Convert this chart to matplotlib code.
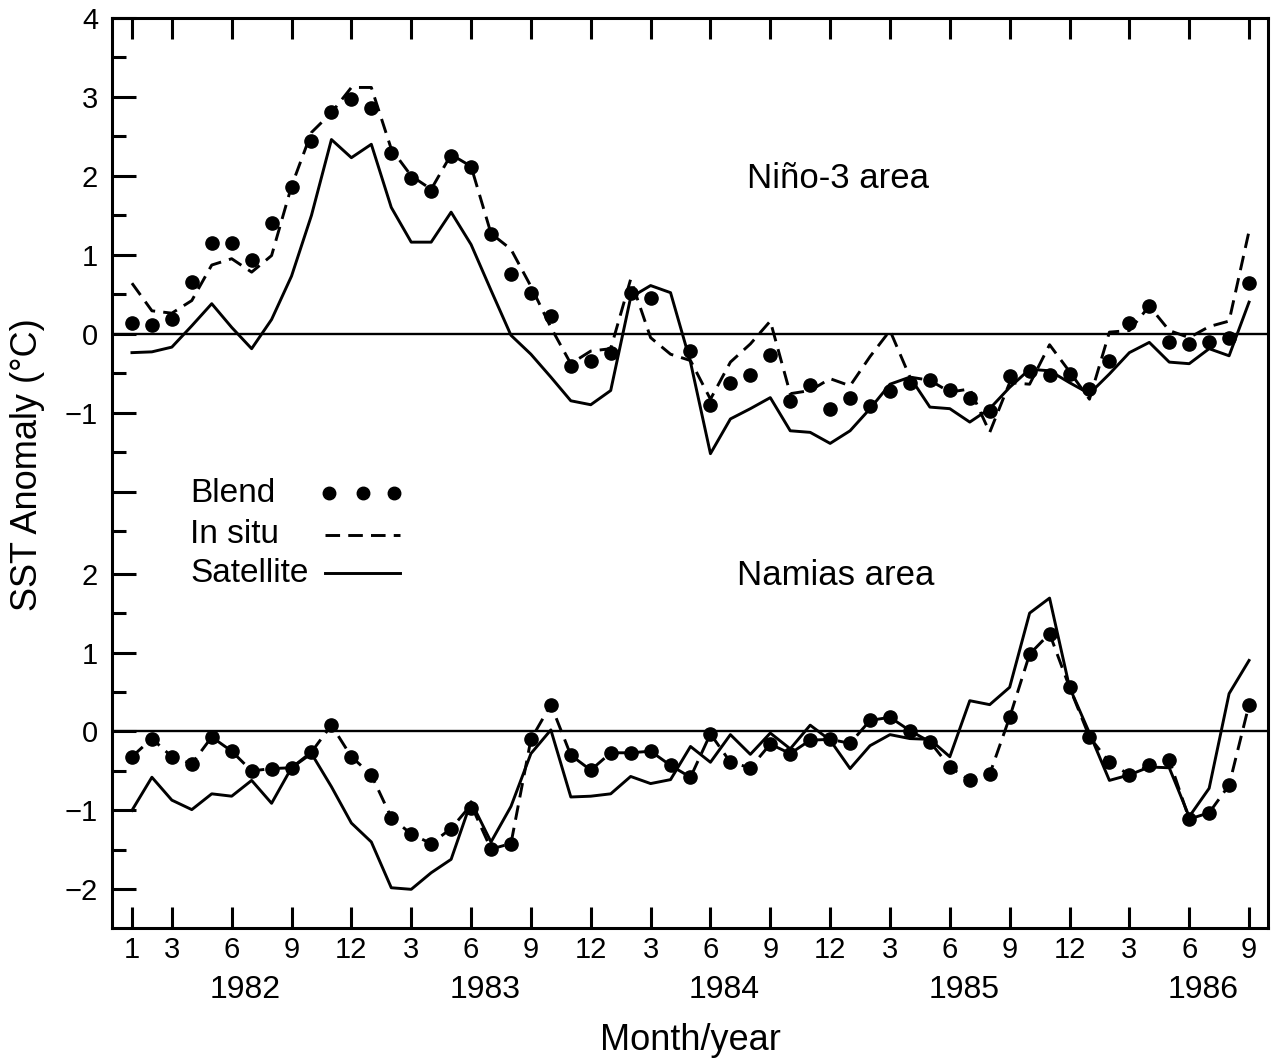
import numpy as np
import matplotlib
matplotlib.use('Agg')
import matplotlib.pyplot as plt

plt.rcParams['font.family'] = ['Liberation Sans', 'DejaVu Sans']

# months since Jan 1982 (0 .. 56 = Sep 1986)
months = np.arange(57)

# Niño-3 area
nino_blend = [0.13, 0.11, 0.18, 0.65, 1.15, 1.15, 0.93, 1.40, 1.86, 2.44,
              2.81, 2.98, 2.86, 2.29, 1.97, 1.81, 2.25, 2.11, 1.26, 0.76,
              0.51, 0.23, -0.41, -0.35, -0.25, 0.52, 0.45, np.nan, -0.22, -0.90,
              -0.62, -0.52, -0.27, -0.85, -0.65, -0.96, -0.81, -0.92, -0.72, -0.62,
              -0.59, -0.71, -0.81, -0.98, -0.54, -0.47, -0.52, -0.51, -0.70, -0.35,
              0.13, 0.35, -0.10, -0.13, -0.11, -0.05, 0.64]
nino_insitu = [0.64, 0.29, 0.26, 0.42, 0.87, 0.95, 0.78, 0.99, 1.87, 2.55,
               2.80, 3.12, 3.12, 2.34, 2.00, 1.83, 2.27, 2.12, 1.27, 1.07,
               0.60, 0.08, -0.38, -0.22, -0.19, 0.69, -0.05, -0.26, -0.34, -0.83,
               -0.36, -0.13, 0.16, -0.76, -0.72, -0.57, -0.66, -0.29, 0.04, -0.55,
               -0.59, -0.74, -0.70, -1.25, -0.62, -0.64, -0.14, -0.48, -0.83, 0.02,
               0.04, 0.35, 0.04, -0.05, 0.09, 0.16, 1.30]
nino_sat = [-0.24, -0.23, -0.17, 0.10, 0.38, 0.08, -0.19, 0.18, 0.73, 1.50,
            2.46, 2.23, 2.40, 1.60, 1.16, 1.16, 1.54, 1.13, 0.55, -0.02,
            -0.26, -0.55, -0.85, -0.90, -0.72, 0.46, 0.61, 0.52, -0.36, -1.52,
            -1.08, -0.95, -0.81, -1.23, -1.25, -1.39, -1.23, -0.95, -0.64, -0.55,
            -0.93, -0.95, -1.12, -0.95, -0.68, -0.45, -0.47, -0.62, -0.76, -0.51,
            -0.24, -0.11, -0.36, -0.38, -0.19, -0.28, 0.40]

# Namias area
nam_blend = [-0.32, -0.09, -0.32, -0.41, -0.07, -0.25, -0.50, -0.47, -0.46, -0.26,
             0.08, -0.32, -0.55, -1.09, -1.30, -1.42, -1.23, -0.97, -1.49, -1.42,
             -0.10, 0.34, -0.30, -0.49, -0.27, -0.27, -0.25, -0.43, -0.58, -0.03,
             -0.39, -0.46, -0.16, -0.28, -0.11, -0.10, -0.15, 0.14, 0.18, 0.01,
             -0.13, -0.45, -0.62, -0.54, 0.18, 0.98, 1.24, 0.56, -0.07, -0.39,
             -0.55, -0.43, -0.36, -1.11, -1.03, -0.68, 0.34]
nam_insitu = [-0.32, -0.09, -0.32, -0.41, -0.07, -0.25, -0.50, -0.47, -0.46, -0.26,
              0.08, -0.32, -0.55, -1.09, -1.30, -1.42, -1.23, -0.93, -1.49, -1.42,
              -0.10, 0.34, -0.30, -0.49, -0.27, -0.27, -0.25, -0.43, -0.58, -0.03,
              -0.39, -0.46, -0.16, -0.28, -0.11, -0.10, -0.15, 0.14, 0.18, 0.01,
              -0.13, -0.45, -0.62, -0.54, 0.18, 0.98, 1.24, 0.56, -0.07, -0.39,
              -0.55, -0.43, -0.36, -1.11, -1.03, -0.68, 0.34]
nam_sat = [-1.00, -0.58, -0.87, -0.99, -0.79, -0.82, -0.62, -0.91, -0.46, -0.28,
           -0.70, -1.16, -1.40, -1.98, -2.00, -1.79, -1.62, -0.89, -1.40, -0.95,
           -0.28, 0.02, -0.83, -0.82, -0.79, -0.57, -0.66, -0.61, -0.19, -0.39,
           -0.04, -0.29, -0.02, -0.22, 0.08, -0.11, -0.47, -0.18, -0.04, -0.09,
           -0.10, -0.32, 0.39, 0.34, 0.56, 1.50, 1.69, 0.56, -0.02, -0.62,
           -0.55, -0.45, -0.46, -1.08, -0.72, 0.48, 0.90]

tick_months = [0, 2, 5, 8, 11, 14, 17, 20, 23, 26, 29, 32, 35, 38, 41, 44, 47, 50, 53, 56]
tick_labels = ['1', '3', '6', '9', '12', '3', '6', '9', '12', '3', '6', '9', '12',
               '3', '6', '9', '12', '3', '6', '9']
years = ['1982', '1983', '1984', '1985', '1986']

OFFSET = -5.04   # lower panel shifted down on the shared axis
LW = 2.1
FS = 24


def main():
    fig = plt.figure(figsize=(12.71, 10.58), dpi=100)
    ax = fig.add_axes([112 / 1271, 1 - 928 / 1058, (1268 - 112) / 1271, (928 - 18) / 1058])

    # zero lines
    ax.axhline(0, color='black', lw=1.7)
    ax.axhline(OFFSET, color='black', lw=1.7)

    dash = (0, (5.0, 2.8))

    # Niño-3
    ax.plot(months, nino_sat, color='black', lw=LW)
    ax.plot(months, nino_insitu, color='black', lw=LW, linestyle=dash)
    ax.plot(months, nino_blend, 'o', color='black', ms=9.5)

    # Namias
    ax.plot(months, np.array(nam_sat) + OFFSET, color='black', lw=LW)
    ax.plot(months, np.array(nam_insitu) + OFFSET, color='black', lw=LW, linestyle=dash)
    ax.plot(months, np.array(nam_blend) + OFFSET, 'o', color='black', ms=9.5)

    ax.set_xlim(-1.0, 56.95)
    ax.set_ylim(OFFSET - 2.49, 3.99)

    # x ticks
    ax.set_xticks(tick_months)
    ax.set_xticklabels(tick_labels)
    # y ticks (two stacked scales)
    up = [4, 3, 2, 1, 0, -1, -2]
    low = [2, 1, 0, -1, -2]
    ypos = up + [v + OFFSET for v in low]
    ylab = ['4', '3', '2', '1', '0', '\u22121', ''] + ['2', '1', '0', '\u22121', '\u22122']
    ax.set_yticks(ypos)
    ax.set_yticklabels(ylab)
    minor = [v + 0.5 for v in up[1:]] + [-2.5] + [v + 0.5 + OFFSET for v in low[1:]]
    ax.set_yticks(minor, minor=True)

    ax.tick_params(axis='x', which='major', direction='in', top=True, bottom=True,
                   length=15, width=2.2, labelsize=21, pad=6)
    ax.tick_params(axis='y', which='major', direction='in', left=True, right=False,
                   length=17, width=2.2, labelsize=21, pad=10)
    ax.tick_params(axis='y', which='minor', direction='in', left=True, right=False,
                   length=10, width=2.2)
    for s in ax.spines.values():
        s.set_linewidth(2.2)

    # year labels
    for k, y in enumerate(years):
        ax.text(5.7 + 12 * k, -0.068, y, transform=ax.get_xaxis_transform(),
                ha='center', va='center', fontsize=FS - 1)
    ax.text(0.5, -0.124, 'Month/year', transform=ax.transAxes,
            ha='center', va='center', fontsize=FS + 2)
    ax.text(-0.073, 0.509, 'SST Anomaly (\u00b0C)', transform=ax.transAxes,
            ha='center', va='center', rotation=90, fontsize=FS + 2)

    # area labels
    ax.text(35.4, 1.97, 'Niño-3 area', ha='center', va='center', fontsize=FS + 1)
    ax.text(35.3, OFFSET + 1.97, 'Namias area', ha='center', va='center', fontsize=FS + 1)

    # legend drawn by hand: labels left, keys right
    tr = ax.transAxes
    rows = [0.478, 0.432, 0.390]
    for y, name in zip(rows, ['Blend', 'In situ', 'Satellite']):
        ax.text(0.0675, y, name, transform=tr, ha='left', va='center', fontsize=FS)
    ax.plot([0.188, 0.217, 0.244], [rows[0]] * 3, 'o', color='black', ms=9, transform=tr)
    ax.plot([0.184, 0.249], [rows[1]] * 2, color='black', lw=LW, linestyle=dash, transform=tr)
    ax.plot([0.184, 0.249], [rows[2]] * 2, color='black', lw=LW, transform=tr)

    fig.savefig('out.png', dpi=100)


if __name__ == '__main__':
    main()
